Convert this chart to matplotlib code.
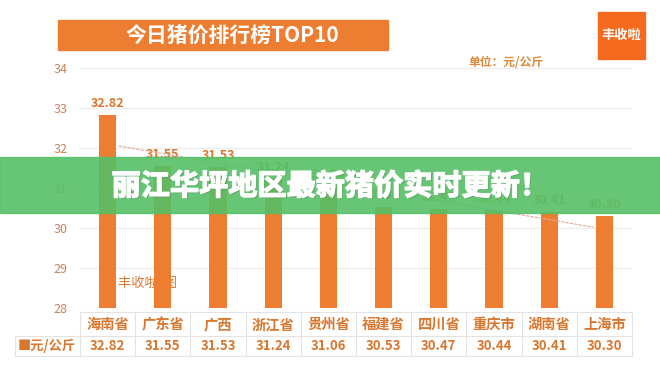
import numpy as np
import matplotlib.pyplot as plt
from matplotlib.patches import Rectangle
from matplotlib.lines import Line2D
import matplotlib.patheffects as pe

plt.rcParams['font.family'] = ['Noto Sans CJK SC', 'DejaVu Sans']

regions = ['海南省', '广东省', '广西', '浙江省', '贵州省', '福建省', '四川省', '重庆市', '湖南省', '上海市']
prices = [32.82, 31.55, 31.53, 31.24, 31.06, 30.53, 30.47, 30.44, 30.41, 30.30]
yticks = [28, 29, 30, 31, 32, 33, 34]

W, H = 660, 372
orange = '#ED7D31'
text_orange = '#D9772E'

def fx(px):
    return px / W

def fy(py):
    return 1 - py / H

fig = plt.figure(figsize=(6.6, 3.72), dpi=100)
fig.patch.set_facecolor('white')

ax = fig.add_axes([fx(80), fy(308), fx(632) - fx(80), fy(68) - fy(308)])
x = np.arange(len(prices))
ax.bar(x, np.array(prices) - 28, bottom=28, width=0.31, color=orange, zorder=3)
ax.set_xlim(-0.5, 9.5)
ax.set_ylim(28, 34)
ax.set_yticks(yticks)
ax.set_yticklabels([str(t) for t in yticks], color='#C9825A', fontsize=9)
ax.tick_params(axis='y', length=0, pad=9)
ax.set_xticks([])
ax.grid(axis='y', color='#EEEEEE', linewidth=1, zorder=0)
for s in ax.spines.values():
    s.set_visible(False)

for xi, v in zip(x, prices):
    ax.text(xi, v + 0.12, f'{v:.2f}', ha='center', va='bottom', fontsize=9,
            color=text_orange, fontweight='bold', zorder=4)

# linear trend line
k, b = np.polyfit(x, prices, 1)
ax.plot([0.2, 8.8], [k * 0.2 + b, k * 8.8 + b], color='#E3A79A', linewidth=0.8,
        linestyle=(0, (3, 1)), zorder=4)

# watermark behind bars
ax.text(0.19, 28.6, '丰收啦  图', fontsize=9.5, color=text_orange, va='center', zorder=2)

# table under the axis
col_w = (632 - 80) / 10
grid_c = '#E3E3E3'
fig.add_artist(Line2D([fx(80), fx(632)], [fy(312), fy(312)], color=grid_c, lw=0.8))
fig.add_artist(Line2D([fx(15), fx(632)], [fy(336), fy(336)], color=grid_c, lw=0.8))
fig.add_artist(Line2D([fx(15), fx(632)], [fy(356), fy(356)], color=grid_c, lw=0.8))
fig.add_artist(Line2D([fx(15), fx(15)], [fy(336), fy(356)], color=grid_c, lw=0.8))
for i in range(11):
    px = 80 + i * col_w
    fig.add_artist(Line2D([fx(px), fx(px)], [fy(312), fy(356)], color=grid_c, lw=0.8))
for i, (r, v) in enumerate(zip(regions, prices)):
    cx = 80 + (i + 0.5) * col_w
    fig.text(fx(cx), fy(325), r, ha='center', va='center', fontsize=10.3,
             color=text_orange, fontweight='bold')
    fig.text(fx(cx), fy(346), f'{v:.2f}', ha='center', va='center', fontsize=9.5,
             color=text_orange, fontweight='bold')
fig.text(fx(47), fy(346), '■元/公斤', ha='center', va='center', fontsize=9.5,
         color=text_orange, fontweight='bold')

# title bar
fig.add_artist(Rectangle((fx(58), fy(50)), fx(388) - fx(58), fy(20) - fy(50),
                         transform=fig.transFigure, color=orange))
fig.text(fx(232), fy(35), '今日猪价排行榜TOP10', ha='center', va='center',
         fontsize=15, color='white', fontweight='bold')

# unit label
fig.text(fx(506), fy(62), '单位：元/公斤', ha='center', va='center', fontsize=8.5,
         color='#E0893C', fontweight='bold')

# logo box
fig.add_artist(Rectangle((fx(598), fy(59)), fx(645) - fx(598), fy(12) - fy(59),
                         transform=fig.transFigure, color='#F56A1C'))
fig.text(fx(621.5), fy(35), '丰收啦', ha='center', va='center', fontsize=9.5,
         color='white', fontweight='bold')

# green banner
fig.add_artist(Rectangle((0, fy(213)), 1, fy(157) - fy(213),
                         transform=fig.transFigure, color='#55C066', alpha=0.9, zorder=10))
fig.text(0.5, fy(186), '丽江华坪地区最新猪价实时更新！', ha='center', va='center',
         fontsize=21, color='white', fontweight='bold', zorder=11,
         path_effects=[pe.SimplePatchShadow(offset=(1, -1), alpha=0.25),
                       pe.withStroke(linewidth=1.0, foreground='white')])

fig.savefig('out.png', dpi=100)
